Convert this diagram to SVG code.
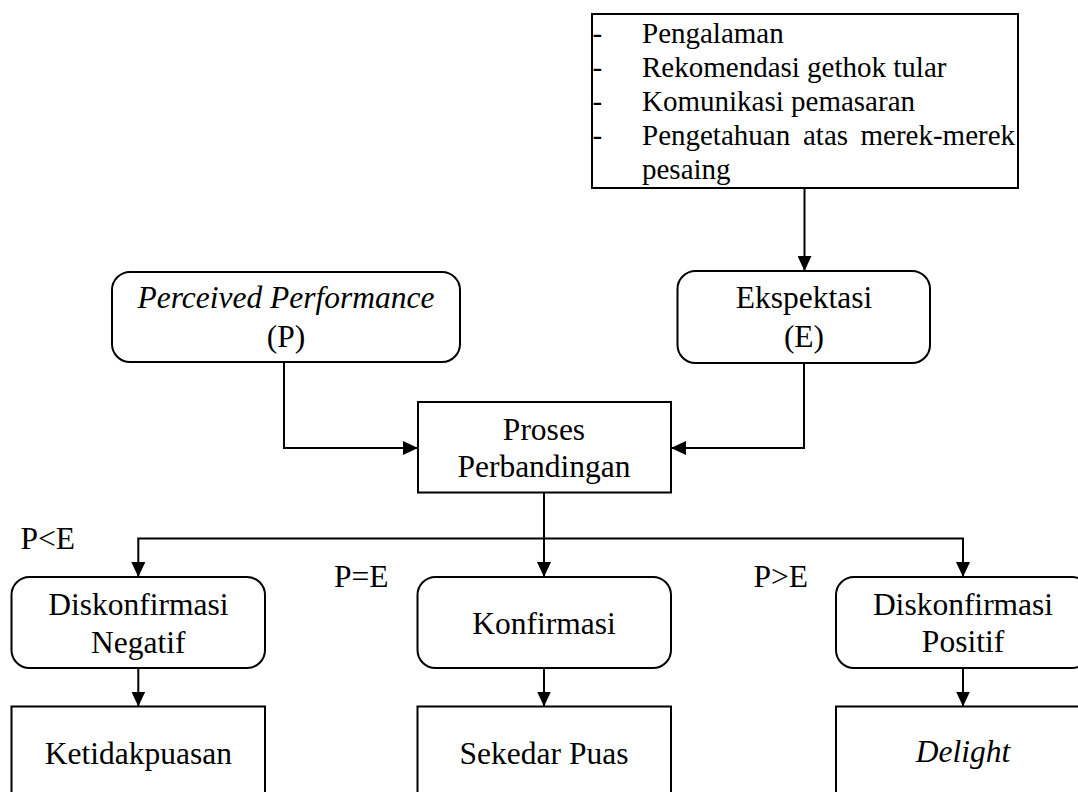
<svg xmlns="http://www.w3.org/2000/svg" width="1078" height="792" viewBox="0 0 1078 792">
  <style>
    .box { fill: #ffffff; stroke: #000000; stroke-width: 2; }
    .wire { fill: none; stroke: #000000; stroke-width: 2; marker-end: url(#arrow); }
    text { font-family: "Liberation Serif", "Times New Roman", serif; fill: #000000; }
    .lbl { font-size: 31.5px; text-anchor: middle; }
    .cond { font-size: 31.5px; }
    .list { font-size: 29px; }
    .it { font-style: italic; }
  </style>
  <defs>
    <marker id="arrow" markerUnits="userSpaceOnUse" markerWidth="15" markerHeight="14" refX="15" refY="7" orient="auto">
      <path d="M0,0 L15,7 L0,14 Z" fill="#000000"/>
    </marker>
  </defs>

  <rect width="1078" height="792" fill="#ffffff"/>

  <!-- factors shaping expectations -->
  <g id="faktor">
    <rect class="box" x="592" y="14" width="426" height="174"/>
    <text class="list">
      <tspan x="592.5" y="43">-</tspan><tspan x="642" y="43">Pengalaman</tspan>
      <tspan x="592.5" y="77">-</tspan><tspan x="642" y="77">Rekomendasi gethok tular</tspan>
      <tspan x="592.5" y="110.5">-</tspan><tspan x="642" y="110.5">Komunikasi pemasaran</tspan>
      <tspan x="592.5" y="144.5">-</tspan><tspan x="642" y="144.5">Pengetahuan</tspan><tspan x="803" y="144.5">atas</tspan><tspan x="860.5" y="144.5">merek-merek</tspan>
      <tspan x="642" y="179">pesaing</tspan>
    </text>
  </g>

  <g id="perceived">
    <rect class="box" x="112" y="272" width="348" height="90" rx="18" ry="18"/>
    <text class="lbl" x="286" y="308"><tspan class="it">Perceived Performance</tspan></text>
    <text class="lbl" x="286" y="346.5">(P)</text>
  </g>

  <g id="ekspektasi">
    <rect class="box" x="677.5" y="271" width="252.5" height="92" rx="18" ry="18"/>
    <text class="lbl" x="804" y="308">Ekspektasi</text>
    <text class="lbl" x="804" y="346.5">(E)</text>
  </g>

  <g id="proses">
    <rect class="box" x="418" y="402" width="253" height="90.5"/>
    <text class="lbl" x="544" y="440">Proses</text>
    <text class="lbl" x="544" y="476.5">Perbandingan</text>
  </g>

  <g id="diskonfirmasi-negatif">
    <rect class="box" x="11.5" y="577" width="253.5" height="91" rx="18" ry="18"/>
    <text class="lbl" x="138.3" y="615">Diskonfirmasi</text>
    <text class="lbl" x="138.3" y="652.5">Negatif</text>
  </g>

  <g id="konfirmasi">
    <rect class="box" x="417.5" y="577" width="253.5" height="91" rx="18" ry="18"/>
    <text class="lbl" x="544" y="634">Konfirmasi</text>
  </g>

  <g id="diskonfirmasi-positif">
    <rect class="box" x="836" y="577" width="254" height="91" rx="18" ry="18"/>
    <text class="lbl" x="963" y="614.5">Diskonfirmasi</text>
    <text class="lbl" x="963" y="652">Positif</text>
  </g>

  <g id="ketidakpuasan">
    <rect class="box" x="11.5" y="706.5" width="253.5" height="100"/>
    <text class="lbl" x="138.3" y="763.5">Ketidakpuasan</text>
  </g>

  <g id="sekedar-puas">
    <rect class="box" x="417.5" y="706.5" width="253.5" height="100"/>
    <text class="lbl" x="544" y="763.5">Sekedar Puas</text>
  </g>

  <g id="delight">
    <rect class="box" x="836" y="706.5" width="254" height="100"/>
    <text class="lbl it" x="963" y="762">Delight</text>
  </g>

  <!-- comparison outcome labels -->
  <g id="kondisi">
    <text class="cond" x="20.5" y="548.5">P&lt;E</text>
    <text class="cond" x="334" y="587">P=E</text>
    <text class="cond" x="753.5" y="587">P&gt;E</text>
  </g>

  <g id="connectors">
    <path class="wire" d="M804.5,188 V271"/>
    <path class="wire" d="M284,362 V448 H418"/>
    <path class="wire" d="M804,363 V448 H671"/>
    <path class="wire" d="M544,492.5 V577"/>
    <path class="wire" d="M544,538.5 H138.3 V577"/>
    <path class="wire" d="M544,538.5 H963 V577"/>
    <path class="wire" d="M138.3,668 V706.5"/>
    <path class="wire" d="M544,668 V706.5"/>
    <path class="wire" d="M963,668 V706.5"/>
  </g>
</svg>
